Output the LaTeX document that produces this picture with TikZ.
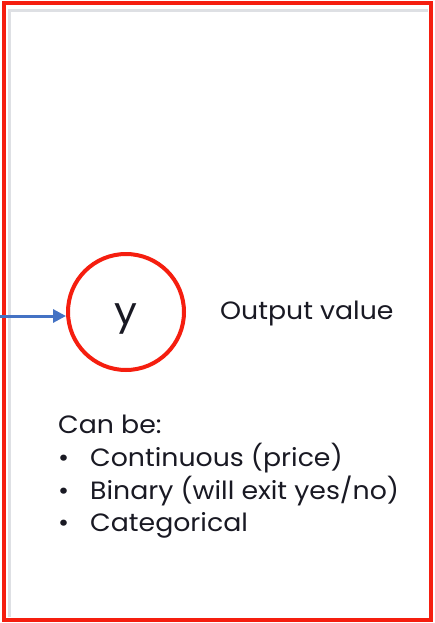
\documentclass[tikz,border=0pt]{standalone}
\usepackage{fontspec}
\setmainfont{Poppins}[FakeStretch=1.07]
\usetikzlibrary{arrows.meta}
\definecolor{bordred}{RGB}{245,30,15}
\definecolor{arrblue}{RGB}{68,114,196}
\definecolor{txt}{RGB}{25,25,35}
\definecolor{shadowgray}{RGB}{200,204,210}
\begin{document}
\begin{tikzpicture}[x=1pt,y=-1pt,
  lbl/.style={anchor=base west,inner sep=0pt,text=txt,font=\fontsize{25}{30}\selectfont},
  outnode/.style={circle,draw=bordred,line width=4pt,minimum size=116pt,inner sep=0pt,fill=white}]
\useasboundingbox (0,0) rectangle (435,623);
\fill[white] (0,0) rectangle (435,623);
% inner shadow
\draw[shadowgray,line width=3pt,opacity=0.6] (9.5,617) -- (9.5,10.5) -- (428,10.5);
\draw[bordred,line width=4pt] (3.5,3.5) rectangle (431,619.5);
\node[outnode] (y) at (126,312) {};
\node[anchor=base,inner sep=0pt,text=txt,font=\fontsize{38}{42}\selectfont] (ylbl) at (126,324) {y};
\coordinate (s) at (0,316);
\draw[arrblue,line width=3pt,-{Triangle[length=13pt,width=13pt]}] (s) -- (s -| y.west);
\node[lbl] (out) at (220,319) {Output value};
\node[lbl] (can) at (58,433) {Can be:};
\node[lbl] (b1) at (58,466) {•};
\node[lbl] (t1) at (90,466) {Continuous (price)};
\node[lbl] (b2) at (58,499) {•};
\node[lbl] (t2) at (90,499) {Binary (will exit yes/no)};
\node[lbl] (b3) at (58,531) {•};
\node[lbl] (t3) at (90,531) {Categorical};
\end{tikzpicture}
\end{document}
